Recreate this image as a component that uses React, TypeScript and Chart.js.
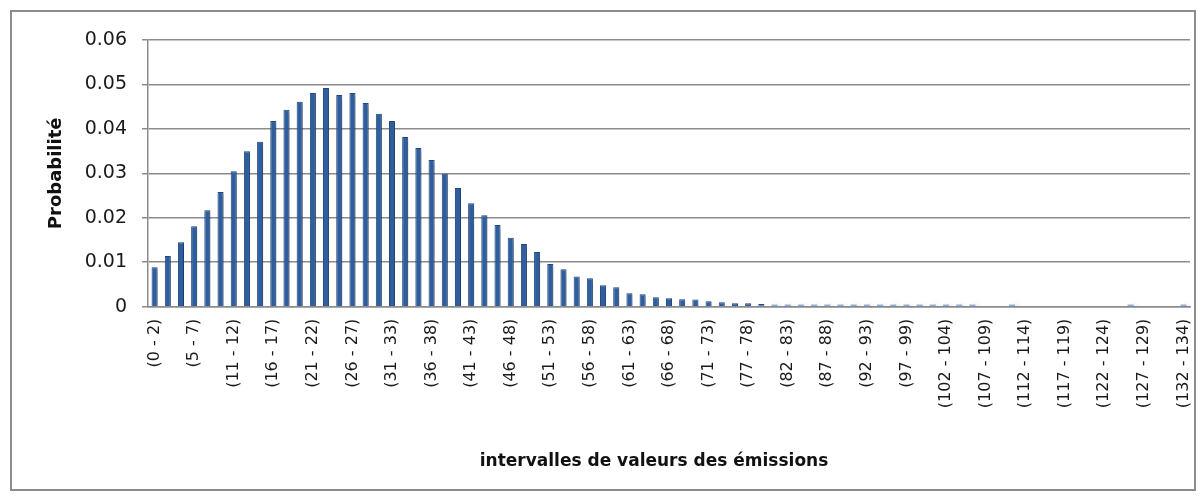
import React, { useEffect, useRef } from "react";
import { Chart, registerables } from "chart.js";

Chart.register(...registerables);

const categories: string[] = [
  "(0 - 2)", "(2 - 3)", "(3 - 5)", "(5 - 7)", "(7 - 8)", "(8 - 10)",
  "(11 - 12)", "(12 - 14)", "(14 - 16)", "(16 - 17)", "(17 - 19)", "(19 - 21)",
  "(21 - 22)", "(22 - 24)", "(24 - 26)", "(26 - 27)", "(27 - 29)", "(29 - 31)",
  "(31 - 33)", "(33 - 34)", "(34 - 36)", "(36 - 38)", "(38 - 39)", "(39 - 41)",
  "(41 - 43)", "(43 - 44)", "(44 - 46)", "(46 - 48)", "(48 - 49)", "(49 - 51)",
  "(51 - 53)", "(53 - 54)", "(54 - 56)", "(56 - 58)", "(58 - 59)", "(59 - 61)",
  "(61 - 63)", "(63 - 64)", "(64 - 66)", "(66 - 68)", "(68 - 69)", "(69 - 71)",
  "(71 - 73)", "(73 - 75)", "(75 - 76)", "(77 - 78)", "(78 - 80)", "(80 - 82)",
  "(82 - 83)", "(83 - 85)", "(85 - 87)", "(87 - 88)", "(88 - 90)", "(90 - 92)",
  "(92 - 93)", "(93 - 95)", "(95 - 97)", "(97 - 99)", "(99 - 100)", "(100 - 102)",
  "(102 - 104)", "(104 - 105)", "(105 - 107)", "(107 - 109)", "(109 - 110)", "(110 - 112)",
  "(112 - 114)", "(114 - 115)", "(115 - 117)", "(117 - 119)", "(119 - 120)", "(120 - 122)",
  "(122 - 124)", "(124 - 125)", "(125 - 127)", "(127 - 129)", "(129 - 131)", "(131 - 132)",
  "(132 - 134)",
];

const probabilities: number[] = [
  0.0089, 0.0114, 0.0145, 0.0181, 0.0217, 0.0258,
  0.0305, 0.0350, 0.0371, 0.0418, 0.0443, 0.0461,
  0.0481, 0.0492, 0.0476, 0.0481, 0.0458, 0.0434,
  0.0418, 0.0382, 0.0357, 0.0330, 0.0299, 0.0267,
  0.0233, 0.0206, 0.0184, 0.0155, 0.0141, 0.0123,
  0.0096, 0.0084, 0.0068, 0.0064, 0.0048, 0.0044,
  0.0030, 0.0028, 0.0021, 0.0019, 0.0017, 0.0016,
  0.0012, 0.0010, 0.0008, 0.0008, 0.0006, 0.0005,
  0.0005, 0.0005, 0.0005, 0.0005, 0.0005, 0.0005,
  0.0005, 0.0005, 0.0005, 0.0005, 0.0005, 0.0005,
  0.0005, 0.0005, 0.0005, 0, 0, 0.0005,
  0, 0, 0, 0, 0, 0,
  0, 0, 0.0005, 0, 0, 0,
  0.0005,
];

const yAxisTitle = "Probabilité";
const xAxisTitle = "intervalles de valeurs des émissions";
const labelEvery = 3;

const shadowPlugin = {
  id: "barShadow",
  beforeDatasetsDraw(chart: any) {
    const ctx = chart.ctx;
    ctx.save();
    ctx.shadowColor = "rgba(0,0,0,0.32)";
    ctx.shadowBlur = 5;
    ctx.shadowOffsetX = 3;
    ctx.shadowOffsetY = 2;
  },
  afterDatasetsDraw(chart: any) {
    chart.ctx.restore();
  },
};

const xTitlePlugin = {
  id: "xTitle",
  afterDraw(chart: any) {
    const { ctx, chartArea } = chart;
    ctx.save();
    ctx.fillStyle = "#111";
    ctx.font = "bold 17px 'DejaVu Sans'";
    ctx.textAlign = "center";
    ctx.textBaseline = "middle";
    ctx.fillText(xAxisTitle, (chartArea.left + chartArea.right) / 2 - 15, chart.height - 27);
    ctx.restore();
  },
};

export default function App() {
  const ref = useRef<HTMLCanvasElement | null>(null);

  useEffect(() => {
    if (!ref.current) return;
    const chart = new Chart(ref.current, {
      type: "bar",
      data: {
        labels: categories,
        datasets: [
          {
            label: yAxisTitle,
            data: probabilities,
            backgroundColor: (c: any) => {
              const v = c.raw as number;
              if (v < 0.00055) return "#8eb0de";
              if (v < 0.00065) return "#5f88c4";
              return "#2f5e9e";
            },
            borderColor: "#234a80",
            borderWidth: (c: any) => ((c.raw as number) < 0.00055 ? 0 : 1),
            categoryPercentage: 1,
            barPercentage: 0.46,
          },
        ],
      },
      options: {
        responsive: false,
        animation: false,
        devicePixelRatio: 1,
        layout: { padding: { top: 28, right: 4, bottom: 0, left: 0 } },
        plugins: {
          legend: { display: false },
          tooltip: { enabled: false },
        },
        scales: {
          x: {
            offset: true,
            grid: { display: false, drawTicks: false },
            border: { display: true, color: "#8c8c8c", width: 1.5 },
            ticks: {
              autoSkip: false,
              minRotation: 90,
              maxRotation: 90,
              padding: 12,
              color: "#1a1a1a",
              font: { family: "DejaVu Sans", size: 16 },
              callback: (_v: any, i: number) => (i % labelEvery === 0 ? categories[i] : ""),
            },
            title: { display: false },
            afterFit: (s: any) => {
              s.height = 182.3;
              s.paddingRight = 0;
              s.paddingLeft = 0;
            },
          },
          y: {
            min: 0,
            max: 0.06,
            ticks: {
              stepSize: 0.01,
              padding: 15,
              color: "#1a1a1a",
              font: { family: "DejaVu Sans", size: 19 },
            },
            grid: { color: "#8c8c8c", lineWidth: 1.5, tickLength: 6 },
            border: { display: true, color: "#8c8c8c", width: 1.5 },
            title: {
              display: true,
              text: yAxisTitle,
              color: "#111",
              font: { family: "DejaVu Sans", size: 18, weight: "bold" },
              padding: { top: 34, bottom: 0 },
            },
            afterFit: (s: any) => {
              s.width = 136;
            },
          },
        },
      },
      plugins: [shadowPlugin, xTitlePlugin],
    });
    return () => chart.destroy();
  }, []);

  return (
    <div
      style={{
        position: "absolute",
        left: 10,
        top: 10,
        width: 1182,
        height: 477,
        border: "2px solid #8c8c8c",
        background: "#fff",
      }}
    >
      <canvas ref={ref} width={1182} height={477} style={{ display: "block" }} />
    </div>
  );
}
